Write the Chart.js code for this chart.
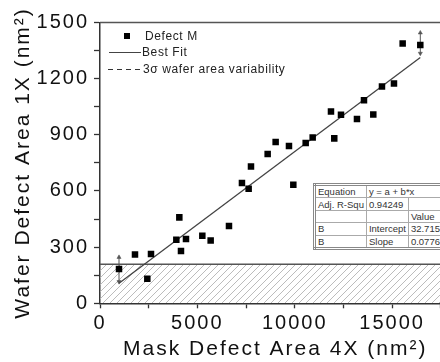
<!DOCTYPE html>
<html>
<head>
<meta charset="utf-8">
<script src="https://cdn.jsdelivr.net/npm/chart.js@4.4.1/dist/chart.umd.min.js"></script>
<style>
  html, body { margin:0; padding:0; background:#fff; overflow:hidden; width:440px; height:362px; }
  #wrap { position:absolute; left:0; top:0; width:460px; height:362px; }
  .leg { position:absolute; font-family:"Liberation Sans", Arial, sans-serif; font-size:12px; color:#222; letter-spacing:0.6px; white-space:nowrap; line-height:14px; }
  .mk { position:absolute; background:#000; }
  .ln { position:absolute; height:0; border-top:1.3px solid #444; }
  .dl { position:absolute; height:1.3px; background:repeating-linear-gradient(90deg,#333 0 5px,transparent 5px 9px); }
  #tbl { position:absolute; left:313px; top:183px; border:3px double #888; border-collapse:collapse;
         font-family:"Liberation Sans", Arial, sans-serif; font-size:9.5px; color:#333; background:#fff; }
  #tbl td { border:1px solid #aaa; height:11.4px; padding:0 2px; line-height:11px; white-space:nowrap; }
</style>
</head>
<body>
<div id="wrap"><canvas id="c"></canvas></div>

<div class="mk" style="left:124px;top:33px;width:6px;height:6px;"></div>
<div class="leg" style="left:145px;top:29px;">Defect M</div>
<div class="ln" style="left:109px;top:52px;width:32px;"></div>
<div class="leg" style="left:142px;top:45px;">Best Fit</div>
<div class="dl" style="left:108px;top:68.5px;width:33px;"></div>
<div class="leg" style="left:143px;top:62px;">3σ wafer area variability</div>

<table id="tbl">
  <tr><td style="width:47px">Equation</td><td colspan="3">y = a + b*x</td></tr>
  <tr><td>Adj. R-Squ</td><td style="width:36px">0.94249</td><td style="width:36px"></td><td style="width:60px"></td></tr>
  <tr><td></td><td></td><td>Value</td><td>Standard Error</td></tr>
  <tr><td>B</td><td>Intercept</td><td>32.715</td><td>29.3</td></tr>
  <tr><td>B</td><td>Slope</td><td>0.0776</td><td>0.0036</td></tr>
</table>

<script>
// ---- data ----
const maskArea  = [976, 1797, 2430, 2619, 3920, 4074, 4159, 4416, 5255, 5683, 6624, 7290, 7634, 7754, 8610, 9020, 9705, 9928, 10563, 10922, 11862, 12031, 12376, 13197, 13557, 14035, 14481, 15097, 15543, 16449];
const waferArea = [183, 261, 131, 263, 340, 459, 279, 343, 361, 336, 413, 643, 612, 731, 797, 861, 840, 633, 856, 886, 1025, 881, 1007, 985, 1085, 1009, 1158, 1174, 1388, 1380];
const fitX = [976, 16449];
const fitY = [107, 1313];
const errX = [976, 16449];
const errLow = [115, 1335];
const errHigh = [246, 1445];
const sigmaLimit = 208;
const xMin = 0, xMax = 18000, yMin = 0, yMax = 1500;
const xTicks = [0, 2500, 5000, 7500, 10000, 12500, 15000, 17500];
const xMajor = [0, 5000, 10000, 15000];
const yTicks = [0, 150, 300, 450, 600, 750, 900, 1050, 1200, 1350, 1500];
const yMajor = [0, 300, 600, 900, 1200, 1500];

// hatch pattern
function hatch() {
  const c = document.createElement('canvas');
  c.width = 7; c.height = 7;
  const g = c.getContext('2d');
  g.strokeStyle = '#b4b4b4'; g.lineWidth = 0.9;
  g.beginPath();
  g.moveTo(0, 7); g.lineTo(7, 0);
  g.moveTo(-1, 1); g.lineTo(1, -1);
  g.moveTo(6, 8); g.lineTo(8, 6);
  g.stroke();
  return g.createPattern(c, 'repeat');
}

const spacing = {
  id: 'spacing',
  beforeLayout(chart) { chart.ctx.letterSpacing = '2px'; },
  beforeDraw(chart) { chart.ctx.letterSpacing = '2px'; },
  afterDraw(chart) {
    const {ctx, chartArea} = chart;
    ctx.save();
    ctx.strokeStyle = '#555'; ctx.lineWidth = 1.5;
    ctx.beginPath();
    ctx.moveTo(chartArea.left, chartArea.top);
    ctx.lineTo(chartArea.right, chartArea.top);
    ctx.stroke();
    ctx.restore();
  }
};

Chart.defaults.font.family = '"Liberation Sans", Arial, sans-serif';
Chart.defaults.color = '#111';

const pts = maskArea.map((x, i) => ({x, y: waferArea[i]}));
const errSets = errX.map((x, i) => ({
  type: 'line',
  data: [{x, y: errLow[i]}, {x, y: errHigh[i]}],
  borderColor: '#555', borderWidth: 1,
  pointStyle: 'triangle', pointRadius: 2.4,
  pointRotation: [180, 0],
  pointBackgroundColor: '#555', pointBorderColor: '#555', pointBorderWidth: 0.5,
  order: 2
}));

new Chart(document.getElementById('c'), {
  type: 'scatter',
  data: {
    datasets: [
      { label: 'Defect M', data: pts, pointStyle: 'rect', pointRadius: 4.6, pointHoverRadius: 4.6,
        backgroundColor: '#000', borderColor: '#000', borderWidth: 0, order: 0 },
      { type: 'line', label: 'Best Fit', data: fitX.map((x, i) => ({x, y: fitY[i]})),
        borderColor: '#444', borderWidth: 1.3, pointRadius: 0, order: 1 },
      ...errSets,
      { type: 'line', label: '3σ wafer area variability',
        data: [{x: xMin, y: sigmaLimit}, {x: xMax, y: sigmaLimit}],
        borderColor: '#555', borderWidth: 1.5, pointRadius: 0,
        fill: 'origin', backgroundColor: hatch(), order: 5 }
    ]
  },
  options: {
    responsive: true, maintainAspectRatio: false, animation: false, devicePixelRatio: 1,
    layout: { padding: { top: 22.5, right: 9.5, left: 0, bottom: 0 } },
    plugins: { legend: { display: false }, tooltip: { enabled: false } },
    scales: {
      x: {
        type: 'linear', min: xMin, max: xMax,
        afterBuildTicks(s) { s.ticks = xTicks.map(v => ({value: v})); },
        afterFit(s) { s.height = 58.7; },
        ticks: { autoSkip: false, padding: 3, maxRotation: 0, minRotation: 0,
          font: { size: 20 }, color: '#111',
          callback: v => xMajor.includes(v) ? String(v) : '' },
        grid: { drawOnChartArea: false, drawTicks: true, tickLength: 5, tickColor: '#333', tickWidth: 1.3 },
        border: { color: '#333', width: 1.5 },
        title: { display: true, text: 'Mask Defect Area 4X (nm²)', font: { size: 21 }, color: '#111',
          padding: { top: 0, bottom: 0 } }
      },
      y: {
        type: 'linear', min: yMin, max: yMax,
        afterBuildTicks(s) { s.ticks = yTicks.map(v => ({value: v})); },
        afterFit(s) { s.width = 100; },
        ticks: { autoSkip: false, padding: 5,
          font: { size: 20 }, color: '#111',
          callback: v => yMajor.includes(v) ? String(v) : '' },
        grid: { drawOnChartArea: false, drawTicks: true, tickLength: 6, tickColor: '#333', tickWidth: 1.3 },
        border: { color: '#333', width: 1.5 },
        title: { display: true, text: 'Wafer Defect Area 1X (nm²)', font: { size: 21 }, color: '#111',
          padding: { top: 11, bottom: 0 } }
      }
    }
  },
  plugins: [spacing]
});
</script>
</body>
</html>
